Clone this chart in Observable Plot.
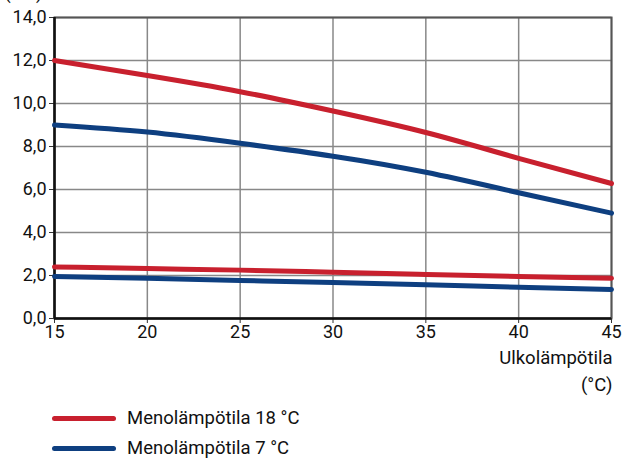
<!DOCTYPE html>
<html>
<head>
<meta charset="utf-8">
<script src="https://cdn.jsdelivr.net/npm/d3@7"></script>
<script src="https://cdn.jsdelivr.net/npm/@observablehq/plot@0.6"></script>
<style>
  body { margin: 0; background: white; font-family: Roboto, "Noto Sans", sans-serif; }
  #legend { position: absolute; left: 52px; top: 403px; font-size: 18.5px; color: #111; }
  .item { display: flex; align-items: center; height: 30px; }
  .sw { width: 64px; height: 5px; border-radius: 3px; margin-right: 11px; }
</style>
</head>
<body>
<div id="chart"></div>
<div id="legend"></div>
<script>
const temps = [15, 20, 25, 30, 35, 40, 45];
const red18High = [12.0, 11.3, 10.55, 9.65, 8.65, 7.45, 6.28];
const blue7High = [9.0, 8.67, 8.15, 7.55, 6.8, 5.85, 4.9];
const red18Low = [2.4, 2.32, 2.25, 2.15, 2.05, 1.95, 1.87];
const blue7Low = [1.95, 1.87, 1.77, 1.67, 1.57, 1.45, 1.35];
const seriesNames = ["Menolämpötila 18 °C", "Menolämpötila 7 °C"];
const colors = ["#c8202e", "#0e3f80"];
const yTicks = [0, 2, 4, 6, 8, 10, 12, 14];
const xTicks = [15, 20, 25, 30, 35, 40, 45];
const yUnit = "(kW)";
const xLabel1 = "Ulkolämpötila";
const xLabel2 = "(°C)";

const mk = (vals, s, part) => temps.map((t, i) => ({x: t, y: vals[i], s, part}));
const data = [
  ...mk(red18High, seriesNames[0], "a"),
  ...mk(blue7High, seriesNames[1], "b"),
  ...mk(red18Low, seriesNames[0], "c"),
  ...mk(blue7Low, seriesNames[1], "d")
];

const fmt = d => d.toFixed(1).replace(".", ",");

const plot = Plot.plot({
  width: 625,
  height: 398,
  marginLeft: 54,
  marginRight: 14,
  marginTop: 17,
  marginBottom: 80,
  style: {fontFamily: "Roboto, 'Noto Sans', sans-serif", fontSize: "18px", color: "#111"},
  x: {domain: [15, 45], label: null},
  y: {domain: [0, 14], label: null},
  color: {domain: seriesNames, range: colors},
  marks: [
    Plot.gridX(xTicks, {stroke: "#888", strokeOpacity: 1, strokeWidth: 1.5}),
    Plot.gridY(yTicks, {stroke: "#888", strokeOpacity: 1, strokeWidth: 1.5}),
    Plot.frame({stroke: "#555", strokeWidth: 2}),
    Plot.axisX({ticks: xTicks, tickFormat: d => d, tickSize: 5, tickPadding: 2, fontSize: 18, stroke: "#333"}),
    Plot.axisY({ticks: yTicks, tickFormat: fmt, tickSize: 5, tickPadding: 3, fontSize: 18, stroke: "#333"}),
    Plot.ruleX([15], {stroke: "#111", strokeWidth: 2.5}),
    Plot.ruleY([0], {stroke: "#111", strokeWidth: 2.5}),
    Plot.line(data, {x: "x", y: "y", z: "part", stroke: "s", strokeWidth: 5, curve: "natural"}),
    Plot.text([xLabel1], {frameAnchor: "bottom-right", dx: 1, dy: 45, text: d => d, textAnchor: "end", fontSize: 18.5, fill: "#111"}),
    Plot.text([xLabel2], {frameAnchor: "bottom-right", dx: 1, dy: 72, text: d => d, textAnchor: "end", fontSize: 18.5, fill: "#111"}),
    Plot.text([yUnit], {frameAnchor: "top-left", dx: -50, dy: -31, text: d => d, textAnchor: "start", fontSize: 18, fill: "#111"})
  ]
});
document.getElementById("chart").appendChild(plot);

const legend = document.getElementById("legend");
seriesNames.forEach((n, i) => {
  const it = document.createElement("div");
  it.className = "item";
  it.innerHTML = `<div class="sw" style="background:${colors[i]}"></div><span>${n}</span>`;
  legend.appendChild(it);
});
</script>
</body>
</html>
